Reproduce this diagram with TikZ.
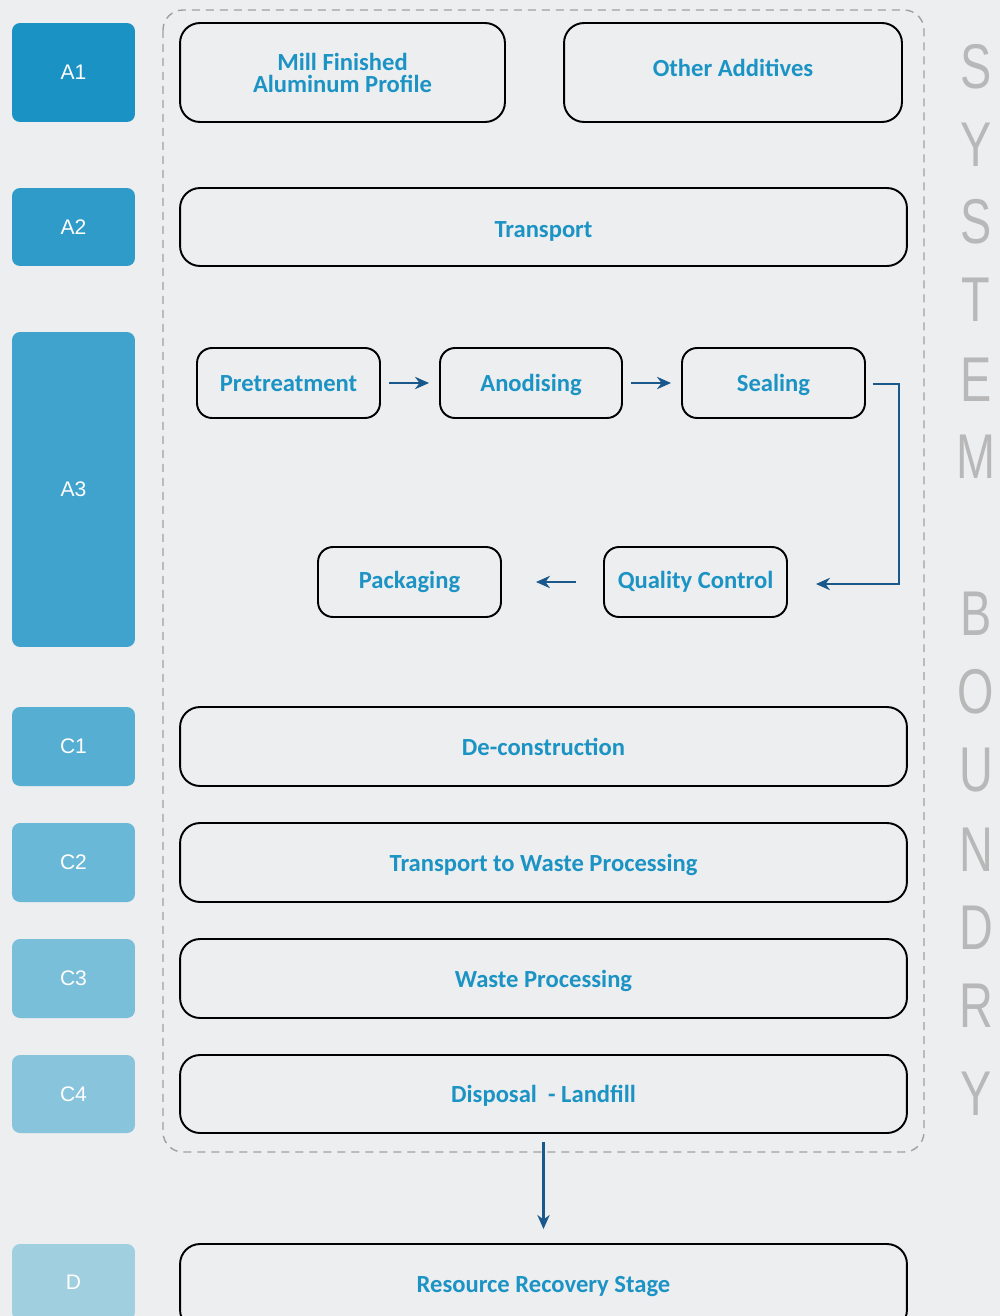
\documentclass[tikz,border=0pt]{standalone}
\usepackage{fontspec}
\setmainfont{Carlito}
\newfontfamily\labfont{Liberation Sans}
\usetikzlibrary{arrows.meta}
\definecolor{bgc}{RGB}{237,238,239}
\definecolor{txtc}{RGB}{27,147,196}
\definecolor{arrc}{RGB}{26,88,140}
\definecolor{bndc}{RGB}{160,160,160}
\definecolor{sysc}{RGB}{184,184,184}
\definecolor{cA1}{RGB}{27,146,196}
\definecolor{cA2}{RGB}{46,155,201}
\definecolor{cA3}{RGB}{64,163,206}
\definecolor{cC1}{RGB}{86,174,211}
\definecolor{cC2}{RGB}{106,184,215}
\definecolor{cC3}{RGB}{122,191,218}
\definecolor{cC4}{RGB}{136,197,220}
\definecolor{cD}{RGB}{160,207,224}
\tikzset{
  box/.style={draw=black, line width=1.1pt, rounded corners=0.4cm, inner sep=0pt,
    align=center, text=txtc, font=\fontsize{14}{12.5}\selectfont\bfseries},
  sbox/.style={box, rounded corners=0.3cm, minimum width=3.66cm, minimum height=1.4cm},
  lab/.style={rounded corners=0.16cm, inner sep=0pt, minimum width=2.46cm,
    text=white, font=\labfont\fontsize{12}{14}\selectfont},
  flow/.style={draw=arrc, line width=1.2pt, -{Stealth[length=8pt,width=7pt]}},
  sysl/.style={text=sysc, font=\labfont\fontsize{36}{40}\selectfont, xscale=0.74, inner sep=0pt}
}
\newcommand{\shiftt}[2]{\smash{\raisebox{#1}{#2}}}
\begin{document}
\begin{tikzpicture}[x=0.02cm,y=-0.02cm]
\clip (0,0) rectangle (1000,1316);
\fill[bgc] (0,0) rectangle (1000,1316);
% boundary
\draw[bndc, line width=0.8pt, dash pattern=on 0.16cm off 0.12cm, rounded corners=0.4cm]
  (163,10) rectangle (924,1152);
% left labels
\node[lab, fill=cA1, minimum height=1.98cm] (lA1) at (73.5,72.5) {A1};
\node[lab, fill=cA2, minimum height=1.56cm] (lA2) at (73.5,227) {A2};
\node[lab, fill=cA3, minimum height=6.3cm] (lA3) at (73.5,489.5) {A3};
\node[lab, fill=cC1, minimum height=1.58cm] (lC1) at (73.5,746.5) {C1};
\node[lab, fill=cC2, minimum height=1.58cm] (lC2) at (73.5,862.5) {C2};
\node[lab, fill=cC3, minimum height=1.58cm] (lC3) at (73.5,978.5) {C3};
\node[lab, fill=cC4, minimum height=1.56cm] (lC4) at (73.5,1094) {C4};
\node[lab, fill=cD, minimum height=1.52cm] (lD) at (73.5,1282) {D};
% right boxes
\node[box, minimum width=6.5cm, minimum height=1.98cm] (mill) at (342.5,72.5) {Mill Finished\\Aluminum Profile};
\node[box, minimum width=6.76cm, minimum height=1.98cm] (other) at (733,72.5) {\shiftt{-0.07cm}{Other Additives}};
\node[box, minimum width=14.54cm, minimum height=1.56cm] (trans) at (543.5,227) {\shiftt{-0.2cm}{Transport}};
\node[sbox] (pre) at (288.5,383) {\shiftt{-0.16cm}{Pretreatment}};
\node[sbox, minimum width=3.64cm] (ano) at (531,383) {\shiftt{-0.16cm}{Anodising}};
\node[sbox] (seal) at (773.5,383) {\shiftt{-0.16cm}{Sealing}};
\node[sbox] (pack) at (409.5,582) {Packaging};
\node[sbox] (qc) at (695.5,582) {Quality Control};
\node[box, minimum width=14.54cm, minimum height=1.58cm] (decon) at (543.5,746.5) {\shiftt{-0.17cm}{De-construction}};
\node[box, minimum width=14.54cm, minimum height=1.58cm] (twp) at (543.5,862.5) {\shiftt{-0.17cm}{Transport to Waste Processing}};
\node[box, minimum width=14.54cm, minimum height=1.58cm] (wp) at (543.5,978.5) {\shiftt{-0.17cm}{Waste Processing}};
\node[box, minimum width=14.54cm, minimum height=1.56cm] (disp) at (543.5,1094) {\shiftt{-0.17cm}{Disposal\ \ - Landfill}};
\node[box, minimum width=14.54cm, minimum height=1.72cm] (rec) at (543.5,1287) {Resource Recovery Stage};
% connectors
\draw[flow] ([xshift=0.16cm]pre.east) -- ([xshift=-0.2cm]ano.west);
\draw[flow] ([xshift=0.16cm]ano.east) -- ([xshift=-0.2cm]seal.west);
\coordinate (sealout) at ([xshift=0.14cm,yshift=-0.02cm]seal.east);
\coordinate (qcin) at ([xshift=0.56cm,yshift=-0.04cm]qc.east);
\draw[flow] (sealout) -- (sealout -| 899,0) -- (qcin -| 899,0) -- (qcin);
\draw[flow] ([xshift=-0.54cm]qc.west) -- ([xshift=0.68cm]pack.east);
\draw[flow] ([yshift=-0.16cm]disp.south) -- ([yshift=0.28cm]rec.north);
% system boundary text
\foreach \ch/\yy [count=\i] in {S/67,Y/145,S/222,T/300,E/380,M/457,B/614,O/692,U/770,N/850,D/928,R/1006,Y/1094}
  \node[sysl] (sys\i) at (976,\yy) {\ch};
\end{tikzpicture}
\end{document}
